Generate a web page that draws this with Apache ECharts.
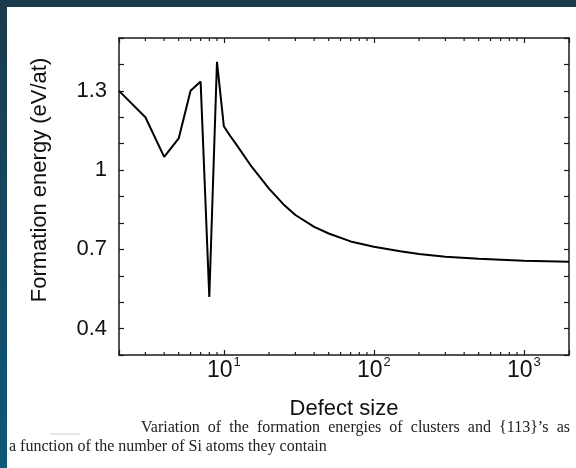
<!DOCTYPE html>
<html>
<head>
<meta charset="utf-8">
<script src="https://cdn.jsdelivr.net/npm/echarts@6/dist/echarts.min.js"></script>
<style>
html,body{margin:0;padding:0;background:#fff;}
#c{width:576px;height:468px;}
</style>
</head>
<body>
<div id="c"></div>
<script>
// Defect size (number of Si atoms)
const sizes = [2, 3, 4, 5, 6, 7, 8, 9, 10, 11, 12, 15, 20, 25, 30, 40, 50, 70, 100, 150, 200, 300, 500, 1000, 2000];
// Formation energy (eV/at)
const energies = [1.30, 1.20, 1.05, 1.12, 1.30, 1.335, 0.52, 1.41, 1.166, 1.13, 1.10, 1.02, 0.93, 0.87, 0.83, 0.785, 0.76, 0.73, 0.71, 0.693, 0.682, 0.672, 0.664, 0.657, 0.653];
// tick labels
const yLabelValues = [0.4, 0.7, 1.0, 1.3];
const xLabelValues = [10, 100, 1000];
const xMinorTicks = [3, 4, 5, 6, 7, 8, 9, 20, 30, 40, 50, 60, 70, 80, 90, 200, 300, 400, 500, 600, 700, 800, 900];
const yAxisTitle = 'Formation energy (eV/at)';
const xAxisTitle = 'Defect size';
const captionLine1 = 'Variation of the formation energies of clusters and {113}\u2019s as';
const captionLine2 = 'a function of the number of Si atoms they contain';

const SANS = '"Liberation Sans", Arial, Helvetica, sans-serif';
const SERIF = '"Liberation Serif", "Times New Roman", serif';
const AX = '#1a1a1a';
const CAP_SIZE = 16;

const chart = echarts.init(document.getElementById('c'), null, {renderer: 'canvas'});

function yFmt(v) {
  for (const t of yLabelValues) if (Math.abs(v - t) < 1e-6) return String(Number(t.toFixed(1)));
  return '';
}
function xFmt(v) {
  for (const t of xLabelValues) {
    if (Math.abs(v - t) / t < 1e-6) return '{b|10}{s|' + Math.round(Math.log10(t)) + '}';
  }
  return '';
}

// justified first caption line: place words so the line spans [x0, x1]
function justifiedWords(text, x0, x1, y, font) {
  const cv = document.createElement('canvas').getContext('2d');
  cv.font = font;
  const words = text.split(' ');
  const widths = words.map(w => cv.measureText(w).width);
  const total = widths.reduce((a, b) => a + b, 0);
  const gap = (x1 - x0 - total) / (words.length - 1);
  let x = x0;
  return words.map((w, i) => {
    const el = {type: 'text', x: x, y: y,
      style: {text: w, fontSize: CAP_SIZE, fontFamily: SERIF, fill: '#222', align: 'left', verticalAlign: 'middle'}};
    x += widths[i] + gap;
    return el;
  });
}

const yCommon = {
  type: 'value', min: 0.3, max: 1.5, interval: 0.1,
  axisLine: {show: true, lineStyle: {color: AX, width: 1.5}},
  axisTick: {show: true, inside: true, length: 5, lineStyle: {color: AX, width: 1.2}},
  splitLine: {show: false}
};
const xCommon = {
  type: 'log', logBase: 10, min: 2, max: 2000,
  axisLine: {show: true, lineStyle: {color: AX, width: 1.5}},
  axisTick: {show: true, inside: true, length: 5, lineStyle: {color: AX, width: 1.2}},
  splitLine: {show: false}, minorTick: {show: false}
};

const option = {
  backgroundColor: '#ffffff',
  animation: false,
  grid: {left: 119, top: 38, right: 7, bottom: 113, containLabel: false},
  xAxis: [
    Object.assign({}, xCommon, {
      position: 'bottom',
      axisLabel: {
        show: true, margin: 1, formatter: xFmt, color: '#111',
        rich: {
          b: {fontSize: 23, fontFamily: SANS, color: '#111'},
          s: {fontSize: 13, fontFamily: SANS, color: '#111', padding: [0, 0, 16, 1]}
        }
      }
    }),
    Object.assign({}, xCommon, {position: 'top', axisLabel: {show: false}})
  ],
  yAxis: [
    Object.assign({}, yCommon, {
      position: 'left',
      axisLabel: {show: true, margin: 12, formatter: yFmt, fontSize: 22, fontFamily: SANS, color: '#111'}
    }),
    Object.assign({}, yCommon, {position: 'right', axisLabel: {show: false}})
  ],
  series: [
    {
      type: 'line',
      data: sizes.map((s, i) => [s, energies[i]]),
      showSymbol: false, symbol: 'none', smooth: false,
      lineStyle: {color: '#000', width: 2},
      xAxisIndex: 0, yAxisIndex: 0
    },
    {
      type: 'custom',
      xAxisIndex: 0, yAxisIndex: 0,
      silent: true, clip: false,
      data: xMinorTicks.map(v => [v]),
      renderItem: function (params, api) {
        const v = api.value(0);
        const b = api.coord([v, 0.3]);
        const t = api.coord([v, 1.5]);
        const st = {stroke: AX, lineWidth: 1.2};
        return {
          type: 'group',
          children: [
            {type: 'line', shape: {x1: b[0], y1: b[1], x2: b[0], y2: b[1] - 3}, style: st},
            {type: 'line', shape: {x1: t[0], y1: t[1], x2: t[0], y2: t[1] + 3}, style: st}
          ]
        };
      }
    }
  ],
  graphic: [
    {type: 'rect', left: 0, top: 0, z: 100, shape: {width: 576, height: 7},
     style: {fill: '#1b3a4b'}},
    {type: 'rect', left: 0, top: 0, z: 100, shape: {width: 7, height: 468},
     style: {fill: new echarts.graphic.LinearGradient(0, 0, 0, 1, [
       {offset: 0, color: '#1b3a4b'}, {offset: 1, color: '#0e5878'}])}},
    {type: 'text', x: 40, y: 180, rotation: Math.PI / 2,
     style: {text: yAxisTitle, fontSize: 22, fontFamily: SANS, fill: '#111', align: 'center', verticalAlign: 'middle'}},
    {type: 'text', x: 344, y: 409,
     style: {text: xAxisTitle, fontSize: 22, fontFamily: SANS, fill: '#111', align: 'center', verticalAlign: 'middle'}},
    {type: 'line', shape: {x1: 50, y1: 434, x2: 80, y2: 434}, style: {stroke: '#d0d0d0', lineWidth: 1}},
    {type: 'text', x: 9, y: 447,
     style: {text: captionLine2, fontSize: CAP_SIZE, fontFamily: SERIF, fill: '#222', align: 'left', verticalAlign: 'middle'}}
  ].concat(justifiedWords(captionLine1, 141, 570, 428, CAP_SIZE + 'px "Liberation Serif", "Times New Roman", serif'))
};
chart.setOption(option);
</script>
</body>
</html>
